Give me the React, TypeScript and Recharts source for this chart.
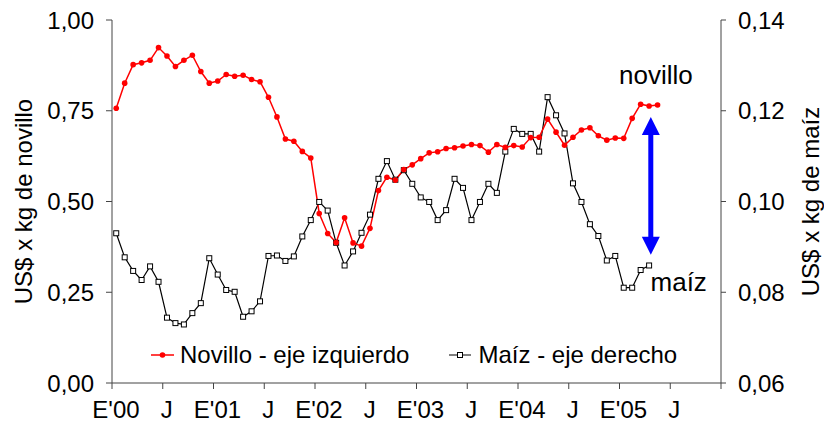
import { LineChart, Line, XAxis, YAxis, Legend, ReferenceLine, ReferenceDot } from 'recharts'

// precios mensuales, ene-2000 en adelante
const novillo = [
  0.757, 0.826, 0.877, 0.882, 0.889, 0.924, 0.901, 0.872, 0.889, 0.903,
  0.858, 0.826, 0.832, 0.850, 0.845, 0.848, 0.836, 0.830, 0.787, 0.733,
  0.672, 0.666, 0.638, 0.620, 0.467, 0.412, 0.387, 0.455, 0.386, 0.377,
  0.426, 0.530, 0.567, 0.559, 0.588, 0.601, 0.618, 0.634, 0.637, 0.646,
  0.648, 0.653, 0.657, 0.654, 0.636, 0.657, 0.649, 0.654, 0.650, 0.676,
  0.677, 0.727, 0.691, 0.655, 0.677, 0.697, 0.703, 0.681, 0.669, 0.675,
  0.674, 0.729, 0.768, 0.763, 0.766,
]

const maiz = [
  0.0930, 0.0877, 0.0847, 0.0827, 0.0857, 0.0823, 0.0744, 0.0732, 0.0729, 0.0754,
  0.0776, 0.0875, 0.0839, 0.0805, 0.0801, 0.0746, 0.0758, 0.0780, 0.0880, 0.0881,
  0.0869, 0.0879, 0.0923, 0.0959, 0.0999, 0.0980, 0.0909, 0.0859, 0.0890, 0.0931,
  0.0971, 0.1050, 0.1089, 0.1048, 0.1069, 0.1039, 0.1009, 0.0999, 0.0959, 0.0981,
  0.1050, 0.1030, 0.0959, 0.0999, 0.1039, 0.1019, 0.1110, 0.1160, 0.1149, 0.1149,
  0.1110, 0.1230, 0.1190, 0.1150, 0.1040, 0.0999, 0.0950, 0.0924, 0.0870, 0.0880,
  0.0810, 0.0810, 0.0849, 0.0859,
]

const xTicks = [0, 6, 12, 18, 24, 30, 36, 42, 48, 54, 60, 66, 72]
const xLabels = ["E'00", 'J', "E'01", 'J', "E'02", 'J', "E'03", 'J', "E'04", 'J', "E'05", 'J', '']
const leftTicks = [0, 0.25, 0.5, 0.75, 1]
const rightTicks = [0.06, 0.08, 0.1, 0.12, 0.14]

// flecha: mes y extremos (eje izquierdo)
const arrowMonth = 63.7
const arrowTop = 0.733
const arrowBottom = 0.353

const data = novillo.map((v, i) => ({
  m: i + 0.5,
  novillo: v,
  maiz: i < maiz.length ? maiz[i] : null,
}))

const coma = (v: number) => v.toFixed(2).replace('.', ',')
const AXIS = '#444'
const FONT = '"Liberation Sans", Arial, sans-serif'

const RedDot = (p: any) => <circle key={p.index} cx={p.cx} cy={p.cy} r={2.8} fill="#ff0000" />
const SqDot = (p: any) =>
  p.cy == null ? null : (
    <rect key={p.index} x={p.cx - 2.5} y={p.cy - 2.5} width={5} height={5} fill="#fff" stroke="#000" strokeWidth={1} />
  )

const Arrow = (p: any) => {
  const x = p.x1
  const top = Math.min(p.y1, p.y2)
  const bot = Math.max(p.y1, p.y2)
  const hw = 9
  const hh = 18
  return (
    <g>
      <line x1={x} y1={top + hh - 1} x2={x} y2={bot - hh + 1} stroke="#0000ff" strokeWidth={5} />
      <polygon points={`${x},${top} ${x - hw},${top + hh} ${x + hw},${top + hh}`} fill="#0000ff" />
      <polygon points={`${x},${bot} ${x - hw},${bot - hh} ${x + hw},${bot - hh}`} fill="#0000ff" />
    </g>
  )
}

const LegendBox = () => (
  <div style={{ display: 'flex', alignItems: 'center', fontSize: 24, fontFamily: FONT, color: '#000', whiteSpace: 'nowrap' }}>
    <svg width={23} height={12} style={{ marginRight: 6 }}>
      <line x1={0} y1={6} x2={23} y2={6} stroke="#ff0000" strokeWidth={1.5} />
      <circle cx={11.5} cy={6} r={2.8} fill="#ff0000" />
    </svg>
    <span>Novillo - eje izquierdo</span>
    <svg width={22} height={12} style={{ marginLeft: 40, marginRight: 7 }}>
      <line x1={0} y1={6} x2={22} y2={6} stroke="#000" strokeWidth={1} />
      <rect x={8.5} y={3.5} width={5} height={5} fill="#fff" stroke="#000" />
    </svg>
    <span>Maíz - eje derecho</span>
  </div>
)

export default function App() {
  return (
    <div style={{ position: 'absolute', left: 0, top: 0, background: '#fff', fontFamily: FONT }}>
      <LineChart width={824} height={430} data={data} margin={{ top: 20, right: 0, bottom: 0, left: 0 }}>
        <XAxis
          dataKey="m"
          type="number"
          domain={[0, 72]}
          ticks={xTicks}
          tickFormatter={(v: number) => xLabels[xTicks.indexOf(v)] ?? ''}
          interval={0}
          height={47}
          tickSize={6}
          tickMargin={12}
          stroke={AXIS}
          tick={{ fill: '#000', fontSize: 24, dx: 4 }}
        />
        <YAxis
          yAxisId="left"
          domain={[0, 1]}
          ticks={leftTicks}
          tickFormatter={coma}
          width={112}
          tickSize={6}
          tickMargin={12}
          stroke={AXIS}
          tick={{ fill: '#000', fontSize: 24 }}
          label={{ value: 'US$ x kg de novillo', angle: -90, position: 'insideLeft', offset: 23, style: { textAnchor: 'middle', fontSize: 24, fill: '#000' } }}
        />
        <YAxis
          yAxisId="right"
          orientation="right"
          domain={[0.06, 0.14]}
          ticks={rightTicks}
          tickFormatter={coma}
          width={103}
          tickSize={5}
          tickMargin={12}
          stroke={AXIS}
          tick={{ fill: '#000', fontSize: 24 }}
          label={{ value: 'US$ x kg de maíz', angle: -90, position: 'insideRight', offset: 14, style: { textAnchor: 'middle', fontSize: 24, fill: '#000' } }}
        />
        <Legend
          layout="horizontal"
          verticalAlign="middle"
          align="center"
          content={<LegendBox />}
          wrapperStyle={{ left: 151, top: 341, width: 'auto' }}
        />
        <Line
          yAxisId="right"
          dataKey="maiz"
          stroke="#000"
          strokeWidth={1.2}
          dot={SqDot}
          activeDot={false}
          isAnimationActive={false}
          connectNulls={false}
        />
        <Line
          yAxisId="left"
          dataKey="novillo"
          stroke="#ff0000"
          strokeWidth={1.5}
          dot={RedDot}
          activeDot={false}
          isAnimationActive={false}
        />
        <ReferenceLine
          yAxisId="left"
          segment={[{ x: arrowMonth, y: arrowTop }, { x: arrowMonth, y: arrowBottom }]}
          shape={Arrow}
        />
        <ReferenceDot
          yAxisId="left"
          x={64.3}
          y={0.848}
          r={0}
          stroke="none"
          label={{ value: 'novillo', position: 'center', fontSize: 26, fill: '#000' }}
        />
        <ReferenceDot
          yAxisId="left"
          x={67}
          y={0.278}
          r={0}
          stroke="none"
          label={{ value: 'maíz', position: 'center', fontSize: 26, fill: '#000' }}
        />
      </LineChart>
    </div>
  )
}
